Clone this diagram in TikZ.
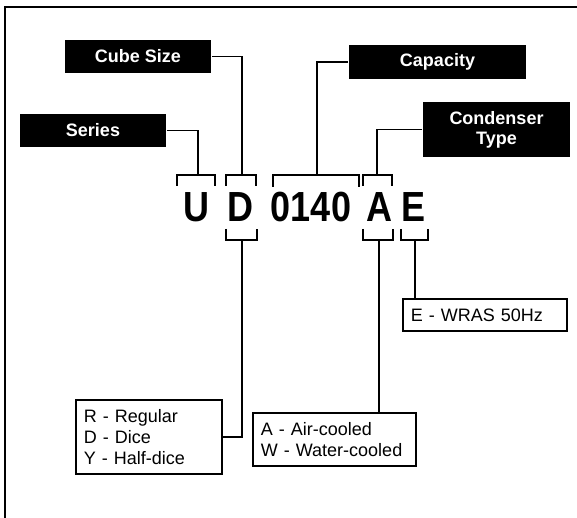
\documentclass[tikz,border=0pt]{standalone}
\usepackage{fontspec}
\setmainfont{Liberation Sans}
\begin{document}
\begin{tikzpicture}[x=1pt,y=-1pt,line width=1.6pt,
  tag/.style={fill=black,text=white,font=\fontsize{18}{20}\selectfont\bfseries,inner sep=0,align=center},
  opt/.style={draw,line width=1.8pt,fill=white,inner xsep=8pt,inner ysep=0pt,anchor=north west,
    font=\fontsize{18}{20.7}\selectfont,align=left},
  big/.style={inner sep=0,font=\fontsize{36}{36}\selectfont\bfseries}]
\useasboundingbox (0,0) rectangle (577,518);
% frame (only top and left edges visible)
\draw[line width=2pt] (5,540) -- (5,7) -- (600,7);

% black tags
\node[tag,minimum width=146pt,minimum height=33pt] (series) at (93,130.5) {Series};
\node[tag,minimum width=146pt,minimum height=33pt] (cube) at (138,56.5) {Cube Size};
\node[tag,minimum width=177pt,minimum height=34pt] (cap) at (437.5,62) {Capacity};
\node[tag,minimum width=147pt,minimum height=55pt] (cond) at (496.5,129.5) {Condenser\\Type};

% code letters
\node[big] (lu) at (196,207) {\scalebox{1}[1.17]{U}};
\node[big] (ld) at (240,207) {\scalebox{1}[1.17]{D}};
\node[big] (lnum) at (311,207) {\scalebox{1}[1.17]{0140}};
\node[big] (la) at (379,207) {\scalebox{1}[1.17]{A}};
\node[big] (le) at (413,207) {\scalebox{1}[1.17]{E}};

% top brackets
\coordinate (tu) at (198,175);
\coordinate (td) at (242,175);
\coordinate (tn) at (317,175);
\coordinate (ta) at (377,175);
\draw (177,186) -- (177,175) -- (215,175) -- (215,186);
\draw (226,186) -- (226,175) -- (256,175) -- (256,186);
\draw (273,187) -- (273,175) -- (359,175) -- (359,187);
\draw (363,186) -- (363,175) -- (392,175) -- (392,186);

% bottom brackets
\coordinate (bd) at (242,240);
\coordinate (ba) at (379,240);
\coordinate (be) at (415,240);
\draw (226,229) -- (226,240) -- (257,240) -- (257,229);
\draw (363,229) -- (363,240) -- (393,240) -- (393,229);
\draw (401,229) -- (401,240) -- (428,240) -- (428,229);

% option boxes
\node[opt,text width=130pt,minimum height=74pt] (rbox) at (75,399) {R - Regular\\D - Dice\\Y - Half-dice};
\node[opt,text width=147pt,minimum height=53pt] (abox) at (252,412) {A - Air-cooled\\W - Water-cooled};
\node[opt,text width=148pt,minimum height=32pt] (ebox) at (402,298) {E - WRAS 50Hz};

% connectors
\draw (series.east) -| (tu);
\draw (cube.east) -| (td);
\draw (cap.west) -| (tn);
\draw (cond.west) -| (ta);
\draw (bd) |- (rbox.east);
\draw (ba) -- (ba |- abox.north);
\draw (be) -- (be |- ebox.north);
\end{tikzpicture}
\end{document}
